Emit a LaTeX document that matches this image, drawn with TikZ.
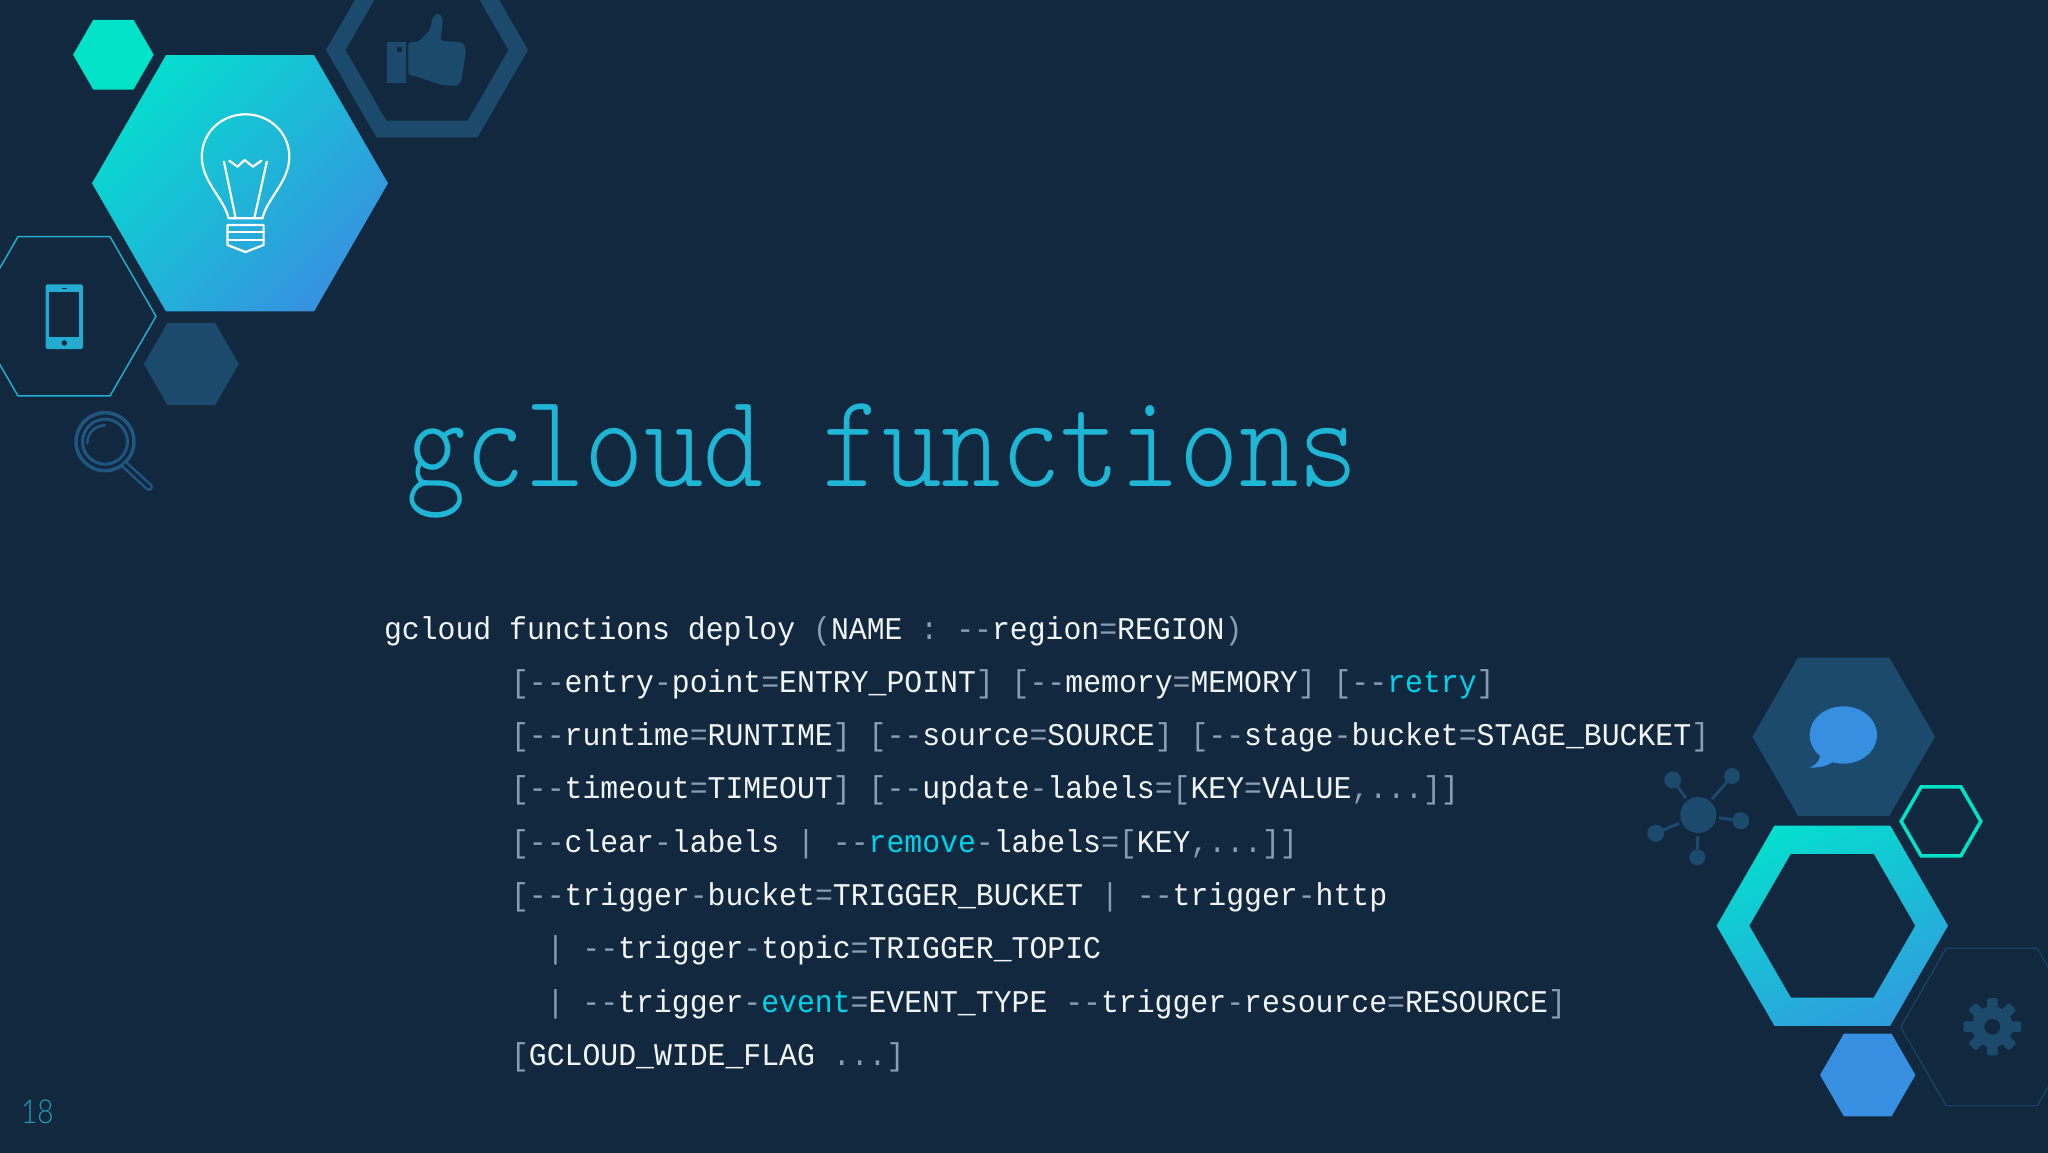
\documentclass[tikz,border=0pt]{standalone}
\usepackage{fontspec}
\setmonofont{Liberation Mono}
\newfontfamily\titlefont{Latin Modern Mono Light}
\newfontfamily\pagefont{Lato Light}
\definecolor{bgNavy}{HTML}{11283F}
\definecolor{hexDark}{HTML}{1B4A6D}
\definecolor{hexMag}{HTML}{1F5680}
\definecolor{hexTeal}{HTML}{00E3C8}
\definecolor{hexBlue}{HTML}{368FE0}
\definecolor{hexCyan}{HTML}{22ACCF}
\definecolor{gradTop}{HTML}{06DCCF}
\definecolor{gradEnd}{HTML}{3692E0}
\definecolor{titleCyan}{HTML}{1FB6D6}
\definecolor{codeWhite}{HTML}{F2F5F8}
\definecolor{codeGrey}{HTML}{8A9DB2}
\definecolor{codeHot}{HTML}{00D2EC}
\definecolor{pageCyan}{HTML}{1E9DB5}
\newcommand{\pu}[1]{\textcolor{codeGrey}{#1}}
\newcommand{\hot}[1]{\textcolor{codeHot}{#1}}
\newcommand{\hexat}[3]{({#1+#3},#2) -- ({#1+0.5*#3},{#2+0.866*#3}) -- ({#1-0.5*#3},{#2+0.866*#3}) -- ({#1-#3},#2) -- ({#1-0.5*#3},{#2-0.866*#3}) -- ({#1+0.5*#3},{#2-0.866*#3}) -- cycle}
\tikzset{
  codeline/.style={anchor=base west,inner sep=0pt,outer sep=0pt,text=codeWhite,yscale=1.06,transform shape,font=\fontsize{29.8}{30}\selectfont\ttfamily\frenchspacing},
  gradfill/.style={left color=gradTop,right color=gradEnd,shading angle=45,draw=none},
  gradring/.style={left color=gradTop,right color=gradEnd!85!gradTop,shading angle=25,draw=none},
  netdot/.style={circle,fill=hexDark,inner sep=0pt,outer sep=0pt},
  netline/.style={draw=hexDark,line width=3pt},
  bulbline/.style={draw=white,line width=2.2pt,line join=round,line cap=round}
}

\begin{document}
\begin{tikzpicture}[x=1pt,y=-1pt]

        \useasboundingbox (0,0) rectangle (2048,1152);
        \fill[bgNavy] (-3,-3) rectangle (2051,1155);

        \fill[hexTeal] \hexat{113.4}{54.7}{40.3};
        \shade[gradfill] \hexat{240}{183.3}{148};
        \fill[hexDark,even odd rule] \hexat{427}{50}{101} \hexat{427}{50}{81.5};
        \draw[hexCyan,line width=1.5pt] \hexat{64}{316.3}{92};
        \fill[hexDark] \hexat{191.3}{364}{47.5};

        \draw[bulbline] (228.6,218.3) .. controls (224,198) and (201.8,182) .. (201.8,156.7) .. controls (201.8,133) and (221,114.3) .. (245.4,114.3) .. controls (270,114.3) and (289.3,133) .. (289.3,156.7) .. controls (289.3,182) and (267,198) .. (262.5,218.3) -- cycle;
        \draw[bulbline] (224,161.7) -- (235.7,218.3);
        \draw[bulbline] (266.8,161.7) -- (254.3,218.3);
        \draw[bulbline] (229.3,160.7) -- (237.5,166.7) -- (244.6,160) -- (252.9,166.7) -- (261.4,160.7);
        \draw[bulbline] (227.5,225) -- (263.6,225) -- (263.6,245) -- (245.4,252) -- (227.5,245) -- cycle;
        \draw[bulbline] (227.5,231.7) -- (263.6,231.7);
        \draw[bulbline] (227.5,240) -- (263.6,240);

        \fill[hexCyan,rounded corners=2pt] (45.7,284.3) rectangle (82.9,349);
        \fill[bgNavy] (49.3,292.3) rectangle (79,337);
        \fill[bgNavy] (64.3,343) circle (2.7);
        \fill[bgNavy] (61.5,287.6) rectangle (67,289.2);

        \fill[hexDark] (387.3,41.7) rectangle (406,82.7);
        \fill[bgNavy] (396.7,46.7) rectangle (401.7,51.7);
        \fill[hexDark,rounded corners=2.5pt] (408.3,42.7) -- (418.3,41.7) -- (430,30) -- (432.7,16.7) -- (438.3,13) -- (443,18.3) -- (440.7,40.7) -- (463.3,42.7) -- (466,50) -- (461.7,80) -- (457.3,86) -- (441.7,85) -- (415,76) -- (408.3,75) -- cycle;

        \draw[hexMag,line width=3.5pt] (105,441.7) circle (29);
        \draw[hexMag,line width=3pt] (105,441.7) circle (22.5);
        \draw[hexMag,line width=2.5pt,line cap=round] (87.3,443) arc (180:270:17.7);
        \draw[hexMag,line width=8pt,line cap=round] (125,465) -- (149,487);
        \draw[bgNavy,line width=3pt,line cap=round] (125,465) -- (149,487);

        \node[anchor=base west,inner sep=0pt,text=titleCyan,xscale=0.846,transform shape,font=\fontsize{134}{134}\selectfont\titlefont] (titleText) at (406,486.7) {gcloud functions};

        \node[codeline] (lineOne) at (384,639) {gcloud functions deploy \pu{(}NAME \pu{: --}region\pu{=}REGION\pu{)}};
        \node[codeline] (lineTwo) at (511,692.3) {\pu{[--}entry\pu{-}point\pu{=}ENTRY\_POINT\pu{]} \pu{[--}memory\pu{=}MEMORY\pu{]} \pu{[--}\hot{retry}\pu{]}};
        \node[codeline] (lineThree) at (511,745.6) {\pu{[--}runtime\pu{=}RUNTIME\pu{]} \pu{[--}source\pu{=}SOURCE\pu{]} \pu{[--}stage\pu{-}bucket\pu{=}STAGE\_BUCKET\pu{]}};
        \node[codeline] (lineFour) at (511,798.9) {\pu{[--}timeout\pu{=}TIMEOUT\pu{]} \pu{[--}update\pu{-}labels\pu{=[}KEY\pu{=}VALUE\pu{,...]]}};
        \node[codeline] (lineFive) at (511,852.2) {\pu{[--}clear\pu{-}labels \pu{| --}\hot{remove}\pu{-}labels\pu{=[}KEY\pu{,...]]}};
        \node[codeline] (lineSix) at (511,905.5) {\pu{[--}trigger\pu{-}bucket\pu{=}TRIGGER\_BUCKET \pu{| --}trigger\pu{-}http};
        \node[codeline] (lineSeven) at (546.7,958.8) {\pu{| --}trigger\pu{-}topic\pu{=}TRIGGER\_TOPIC};
        \node[codeline] (lineEight) at (546.7,1012.1) {\pu{| --}trigger\pu{-}\hot{event}\pu{=}EVENT\_TYPE \pu{--}trigger\pu{-}resource\pu{=}RESOURCE\pu{]}};
        \node[codeline] (lineNine) at (511,1065.4) {\pu{[}GCLOUD\_WIDE\_FLAG \pu{...]}};

        \node[anchor=base west,inner sep=0pt,text=pageCyan,xscale=0.85,transform shape,font=\fontsize{33}{33}\selectfont\pagefont] (pageNum) at (21,1123.3) {18};

        \fill[hexDark] \hexat{1843.7}{736.7}{91.3};
        \fill[hexBlue] (1843.3,735) ellipse (33.7 and 28.7);
        \fill[hexBlue] (1820,752) .. controls (1821,760) and (1817,764) .. (1810,767.5) .. controls (1820,768) and (1827,766) .. (1834,761) -- cycle;

        \draw[hexTeal,line width=3.5pt,miter limit=4] \hexat{1941}{821.3}{39.8};
        \shade[gradring,even odd rule] \hexat{1832.3}{925.7}{115.7} \hexat{1832.3}{925.7}{83};
        \fill[hexBlue] \hexat{1867.7}{1075}{47.7};
        \draw[hexDark!75!bgNavy,line width=1.3pt] \hexat{1991.7}{1027}{91};

        \foreach \ang in {0,45,...,315}
          \fill[hexDark,rounded corners=1.5pt,rotate around={\ang:(1992.3,1026.7)}] (1987,998) rectangle (1997.6,1012);
        \fill[hexDark,even odd rule] (1992.3,1026.7) circle (20.5) (1992.3,1026.7) circle (8);

        \node[netdot,minimum size=36pt] (hubDot) at (1698.3,815) {};
        \node[netdot,minimum size=17pt] (satOne) at (1672.7,780) {};
        \node[netdot,minimum size=16pt] (satTwo) at (1732,776) {};
        \node[netdot,minimum size=17pt] (satThree) at (1740.7,820.7) {};
        \node[netdot,minimum size=17pt] (satFour) at (1655.7,833.3) {};
        \node[netdot,minimum size=16pt] (satFive) at (1697.3,857.3) {};
        \foreach \sat in {satOne,satTwo,satThree,satFour,satFive}
          \draw[netline,shorten <=3pt] (hubDot) -- (\sat);

\end{tikzpicture}
\end{document}
